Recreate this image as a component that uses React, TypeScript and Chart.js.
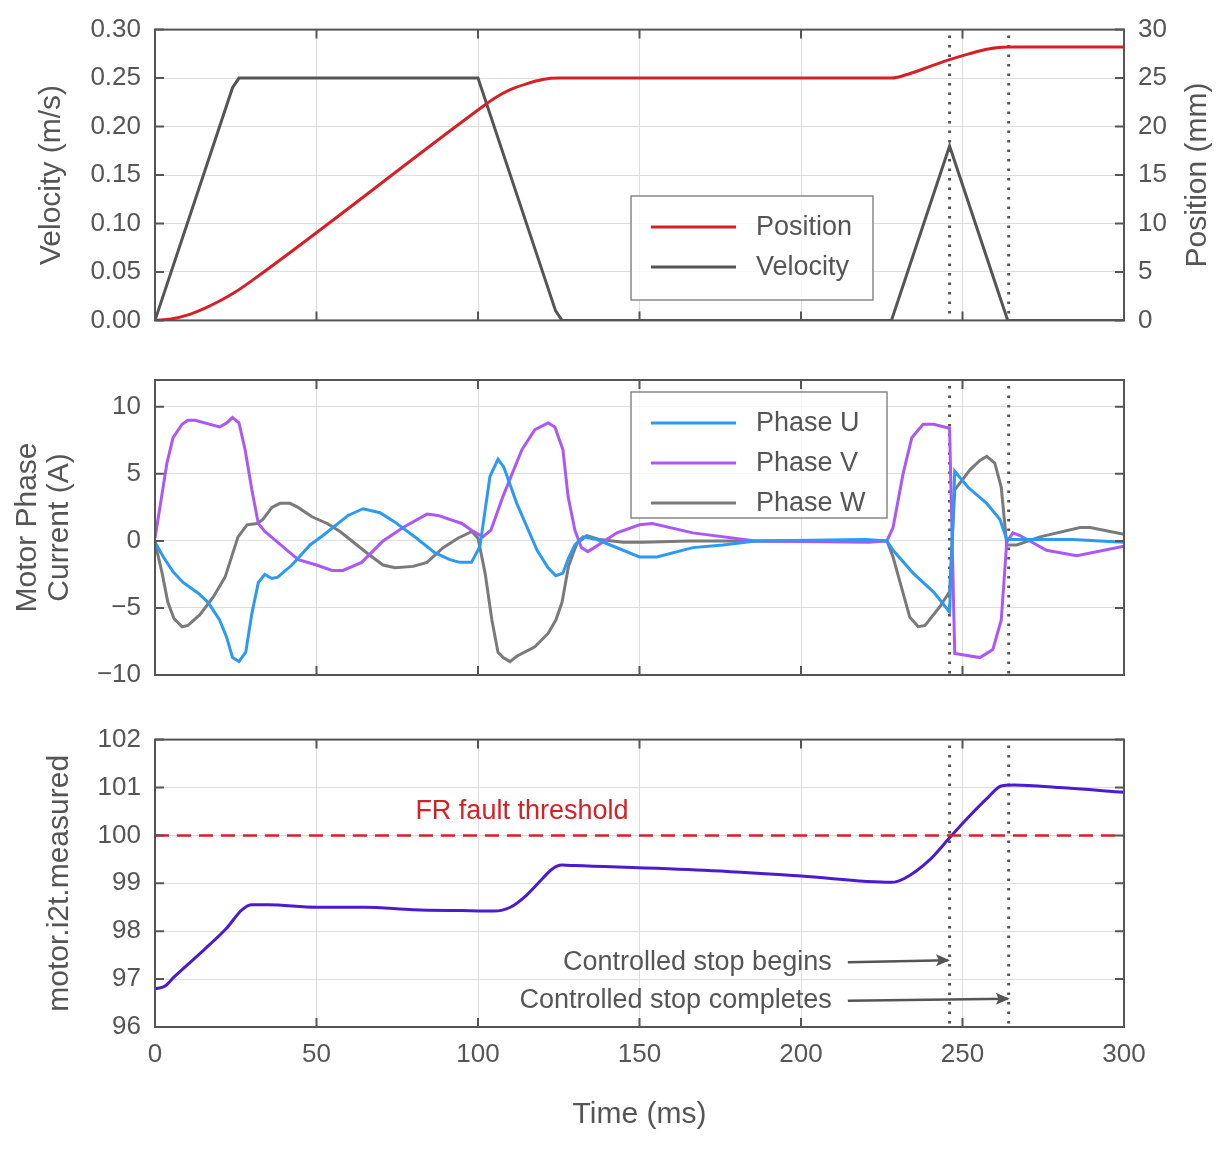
import React, { useEffect, useRef } from "react";
import { Chart, registerables } from "chart.js";
Chart.register(...registerables);

const velT = [0, 24, 26, 100, 124, 126, 228, 246, 264, 300];
const velV = [0, 0.24, 0.25, 0.25, 0.01, 0, 0, 0.18, 0, 0];
const posT = [0, 5, 10, 15, 20, 25, 30, 100, 105, 110, 115, 120, 125, 228, 234, 240, 246, 252, 258, 264, 300];
const posV = [0, 0.15, 0.55, 1.2, 2.0, 2.95, 4.1, 21.7, 22.9, 23.8, 24.4, 24.85, 25, 25, 25.5, 26.2, 26.9, 27.5, 28.0, 28.2, 28.2];

const uT = [0, 2.6, 5.6, 8.7, 13.4, 16.5, 20, 22.2, 24, 26, 28.1, 30, 32, 34, 36.2, 38, 42.4, 48, 52, 59.8, 64.4, 69.7, 74.3, 81, 86.7, 91.3, 94.4, 98, 100.6, 103.7, 106.2, 108, 112, 118.3, 121.7, 124.1, 126.3, 128, 130, 132.5, 136.8, 150, 155.4, 166.5, 175.8, 186, 220, 226.6, 228.5, 234.7, 241, 246, 247.6, 251.7, 257.5, 261.6, 263.7, 274, 284, 300];
const uV = [-0.1, -1.2, -2.3, -3.1, -3.9, -4.6, -5.9, -7.2, -8.7, -9.0, -8.3, -5.4, -3.1, -2.5, -2.8, -2.7, -1.8, -0.3, 0.4, 1.9, 2.4, 2.1, 1.4, 0.2, -0.9, -1.4, -1.6, -1.6, -0.4, 4.8, 6.1, 5.5, 2.8, -0.7, -2.0, -2.6, -2.4, -1.3, -0.3, 0.3, 0.1, -1.2, -1.2, -0.5, -0.3, 0, 0.1, 0, -0.7, -2.4, -3.8, -5.3, 5.2, 4.0, 2.8, 1.6, 0.1, 0.1, 0.1, -0.1];
const vT = [0, 3.7, 5.6, 8.4, 10.2, 12.4, 20, 22.2, 24, 26, 27.9, 30, 32, 34, 36, 42.4, 44.4, 50, 54.8, 58.2, 64, 70.6, 76.8, 84.2, 87.6, 95, 98, 101.5, 104, 107.7, 113.6, 117.6, 121.7, 123.8, 126.3, 127.9, 130, 132, 134, 136, 143, 150, 154, 166.5, 186, 221, 226.6, 228.5, 231.6, 234.3, 237.8, 241, 246, 247.6, 255.4, 259.4, 262, 263.7, 265.6, 267.8, 276, 285.4, 300];
const vV = [0.2, 5.8, 7.7, 8.7, 9.0, 9.0, 8.5, 8.8, 9.2, 8.8, 6.8, 3.8, 1.3, 0.7, 0.3, -1.0, -1.4, -1.8, -2.2, -2.2, -1.6, 0, 1.0, 2.0, 1.9, 1.3, 0.8, 0.3, 0.8, 3.3, 6.8, 8.3, 8.8, 8.5, 6.8, 3.3, 0.8, -0.5, -0.8, -0.5, 0.6, 1.2, 1.3, 0.6, 0, -0.1, 0, 1.0, 5.0, 7.7, 8.7, 8.7, 8.4, -8.4, -8.7, -8.1, -5.9, -0.1, 0.6, 0.4, -0.7, -1.1, -0.4];
const wT = [0, 2.2, 4, 5.9, 8.4, 10.2, 13.9, 18, 21.7, 25.7, 28.5, 31.6, 33.4, 36.2, 38.7, 41.8, 44.3, 48.6, 53.3, 57.3, 65.6, 70.6, 74.3, 79.9, 84.2, 89.2, 93.8, 98.1, 100, 102.2, 104.3, 106.2, 107.8, 109.9, 112, 117.6, 121.7, 124.1, 126, 128, 130.6, 133.7, 137.8, 144.9, 151, 165.6, 226.6, 228.5, 231.6, 233.7, 236.3, 238.4, 243, 246, 247.6, 252.3, 255.4, 257.5, 260, 262, 263.7, 266.8, 274, 286.4, 289.5, 300];
const wV = [-0.1, -2.4, -4.6, -5.8, -6.4, -6.3, -5.5, -4.2, -2.7, 0.3, 1.2, 1.3, 1.6, 2.5, 2.8, 2.8, 2.5, 1.8, 1.3, 0.7, -0.9, -1.8, -2.0, -1.9, -1.6, -0.5, 0.2, 0.7, 0.2, -2.4, -5.9, -8.3, -8.7, -9.0, -8.6, -7.9, -6.9, -5.9, -4.6, -1.9, -0.2, 0.4, 0.1, -0.1, -0.1, 0, 0, -1.2, -3.9, -5.7, -6.4, -6.3, -4.9, -3.8, 3.8, 5.3, 6.0, 6.3, 5.8, 4.0, -0.3, -0.3, 0.3, 1.0, 1.0, 0.5];

const i2tT = [0, 3, 6, 15, 22, 27, 30, 35, 50, 65, 80, 95, 105, 110, 115, 120, 123, 126, 130, 170, 200, 228, 232, 240, 246, 250, 258, 262, 266, 280, 300];
const i2tV = [96.8, 96.85, 97.05, 97.6, 98.05, 98.45, 98.55, 98.55, 98.5, 98.5, 98.45, 98.43, 98.42, 98.5, 98.75, 99.1, 99.3, 99.38, 99.37, 99.27, 99.15, 99.02, 99.1, 99.5, 99.95, 100.25, 100.8, 101.03, 101.05, 101.0, 100.9];
const thresholdValue = 100;
const stopTimes = [246, 264.3];

const FONT = "'Liberation Sans', Arial, sans-serif";
const TXT = "#555";
const TICK = 26;
const TITLE = 30;
const LBL = 27;
const pts = (t: number[], v: number[]) => t.map((x, i) => ({ x, y: v[i] }));
const minus = (s: string) => s.replace("-", "\u2212");

const framePlugin = {
  id: "frame",
  beforeDatasetsDraw(chart: any) {
    const { ctx, chartArea: a, scales } = chart;
    ctx.save();
    ctx.strokeStyle = "#555";
    ctx.lineWidth = 3;
    ctx.setLineDash([2.5, 7]);
    for (const t of stopTimes) {
      const x = scales.x.getPixelForValue(t);
      ctx.beginPath(); ctx.moveTo(x, a.top + 6); ctx.lineTo(x, a.bottom); ctx.stroke();
    }
    ctx.restore();
  },
  afterDraw(chart: any) {
    const { ctx, chartArea: a, scales } = chart;
    ctx.save();
    ctx.strokeStyle = "#555";
    ctx.lineWidth = 2;
    ctx.beginPath();
    for (const tk of scales.x.ticks) {
      const x = scales.x.getPixelForValue(tk.value);
      ctx.moveTo(x, a.bottom); ctx.lineTo(x, a.bottom - 9);
      ctx.moveTo(x, a.top); ctx.lineTo(x, a.top + 9);
    }
    for (const tk of scales.y.ticks) {
      const y = scales.y.getPixelForValue(tk.value);
      ctx.moveTo(a.left, y); ctx.lineTo(a.left + 9, y);
      if (!scales.y2) { ctx.moveTo(a.right, y); ctx.lineTo(a.right - 9, y); }
    }
    if (scales.y2) {
      for (const tk of scales.y2.ticks) {
        const y = scales.y2.getPixelForValue(tk.value);
        ctx.moveTo(a.right, y); ctx.lineTo(a.right - 9, y);
      }
    }
    ctx.stroke();
    ctx.strokeRect(a.left, a.top, a.right - a.left, a.bottom - a.top);
    const rt = chart.options.plugins.rightTitle;
    if (rt) {
      ctx.save();
      ctx.translate(rt.x, (a.top + a.bottom) / 2);
      ctx.rotate(-Math.PI / 2);
      ctx.font = `${TITLE}px ${FONT}`;
      ctx.fillStyle = TXT; ctx.textAlign = "center"; ctx.textBaseline = "middle";
      ctx.fillText(rt.text, 0, 0);
      ctx.restore();
    }
    const lg = chart.options.plugins.myLegend;
    if (lg) {
      ctx.fillStyle = "rgba(255,255,255,0.8)";
      ctx.fillRect(lg.x, lg.y, lg.w, lg.h);
      ctx.strokeStyle = "#888";
      ctx.lineWidth = 1.5;
      ctx.strokeRect(lg.x, lg.y, lg.w, lg.h);
      ctx.font = `${LBL}px ${FONT}`;
      ctx.textBaseline = "middle";
      lg.items.forEach((it: any, i: number) => {
        const y = lg.y + 31 + i * 40;
        ctx.strokeStyle = it.color; ctx.lineWidth = 3;
        ctx.beginPath(); ctx.moveTo(lg.x + 20, y); ctx.lineTo(lg.x + 105, y); ctx.stroke();
        ctx.fillStyle = TXT; ctx.fillText(it.label, lg.x + 125, y + 1);
      });
    }
    const an = chart.options.plugins.myNotes;
    if (an) {
      const X = scales.x, Y = scales.y;
      ctx.font = `${LBL}px ${FONT}`;
      ctx.textBaseline = "middle";
      ctx.fillStyle = "#d62027";
      ctx.textAlign = "center";
      ctx.fillText("FR fault threshold", X.getPixelForValue(113.6), Y.getPixelForValue(100.49));
      ctx.fillStyle = TXT;
      ctx.textAlign = "right";
      ctx.strokeStyle = "#555"; ctx.lineWidth = 2.5;
      for (const n of an) {
        const y = Y.getPixelForValue(n.y);
        ctx.fillText(n.text, X.getPixelForValue(209.5), y);
        const x0 = X.getPixelForValue(214.5), x1 = X.getPixelForValue(n.to);
        const y1 = y - 2;
        ctx.beginPath(); ctx.moveTo(x0, y); ctx.lineTo(x1, y1); ctx.stroke();
        ctx.beginPath();
        ctx.moveTo(x1 + 2, y1); ctx.lineTo(x1 - 12, y1 - 6); ctx.lineTo(x1 - 9, y1); ctx.lineTo(x1 - 12, y1 + 6); ctx.closePath();
        ctx.fillStyle = "#555"; ctx.fill();
        ctx.fillStyle = TXT;
      }
    }
    ctx.restore();
  },
};

const gridCol = "#dddddd";
const xScale = (showLabels: boolean, h: number) => ({
  type: "linear", min: 0, max: 300,
  ticks: { stepSize: 50, display: showLabels, color: TXT, font: { family: FONT, size: TICK }, padding: 12, maxRotation: 0 },
  grid: { color: gridCol, lineWidth: 1, drawTicks: false },
  border: { display: false },
  title: showLabels ? { display: true, text: "Time (ms)", color: TXT, font: { family: FONT, size: TITLE }, padding: { top: 0, bottom: 0 } } : { display: false },
  afterFit: (s: any) => { s.height = h; },
});
const yScale = (o: any) => ({
  type: "linear",
  position: "left",
  min: o.min, max: o.max,
  ticks: { stepSize: o.step, includeBounds: false, color: TXT, font: { family: FONT, size: TICK }, padding: 14, callback: o.cb },
  grid: { color: gridCol, lineWidth: 1, drawTicks: false },
  border: { display: false },
  title: { display: true, text: o.title, color: TXT, font: { family: FONT, size: TITLE, lineHeight: 1.05 }, padding: { top: 0, bottom: 6 } },
  afterFit: (s: any) => { s.width = o.w; },
});

function Panel({ top, height, config }: any) {
  const ref = useRef<HTMLCanvasElement>(null);
  useEffect(() => {
    const c = new Chart(ref.current!, config);
    return () => c.destroy();
  }, []);
  return (
    <div style={{ position: "absolute", left: 0, top, width: 1225, height }}>
      <canvas ref={ref} width={1225} height={height} style={{ width: 1225, height }} />
    </div>
  );
}

const lineDs = (label: string, data: any, color: string, extra: any = {}) => ({
  label, data, borderColor: color, borderWidth: 3, pointRadius: 0, fill: false, tension: 0, ...extra,
});

const common = { responsive: false, animation: false, plugins: { legend: { display: false }, tooltip: { enabled: false } } };

const cfg1: any = {
  type: "line",
  data: { datasets: [
    lineDs("Position", pts(posT, posV), "#d62027", { yAxisID: "y2", cubicInterpolationMode: "monotone" }),
    lineDs("Velocity", pts(velT, velV), "#555555", { yAxisID: "y" }),
  ] },
  options: {
    ...common,
    plugins: { ...common.plugins, rightTitle: { x: 1198, text: "Position (mm)" }, myLegend: { x: 631, y: 196, w: 242, h: 104, items: [{ label: "Position", color: "#d62027" }, { label: "Velocity", color: "#555555" }] } },
    layout: { padding: { top: 27, bottom: 28, left: 36, right: 0 } },
    scales: {
      x: xScale(false, 0),
      y: yScale({ min: 0, max: 0.3, step: 0.05, title: "Velocity (m/s)", w: 119, cb: (v: number) => v.toFixed(2) }),
      y2: {
        type: "linear", position: "right", min: 0, max: 30,
        ticks: { stepSize: 5, color: TXT, font: { family: FONT, size: TICK }, padding: 14 },
        grid: { display: false, drawTicks: false }, border: { display: false },
        title: { display: false },
        afterFit: (s: any) => { s.width = 101; },
      },
    },
  },
  plugins: [framePlugin],
};

const cfg2: any = {
  type: "line",
  data: { datasets: [
    lineDs("Phase U", pts(uT, uV), "#2b9af3"),
    lineDs("Phase V", pts(vT, vV), "#ac58f6"),
    lineDs("Phase W", pts(wT, wV), "#7a7a7a"),
  ] },
  options: {
    ...common,
    plugins: { ...common.plugins, myLegend: { x: 631, y: 42, w: 256, h: 126, items: [{ label: "Phase U", color: "#2b9af3" }, { label: "Phase V", color: "#ac58f6" }, { label: "Phase W", color: "#7a7a7a" }] } },
    layout: { padding: { top: 30, bottom: 35, left: 12, right: 101 } },
    scales: {
      x: xScale(false, 0),
      y: yScale({ min: -10, max: 12, step: 5, title: ["Motor Phase", "Current (A)"], w: 143, cb: (v: number) => minus(String(v)) }),
    },
  },
  plugins: [framePlugin],
};

const cfg3: any = {
  type: "line",
  data: { datasets: [
    lineDs("threshold", [{ x: 0, y: thresholdValue }, { x: 300, y: thresholdValue }], "#d62027", { borderDash: [14, 8], borderWidth: 2.5 }),
    lineDs("i2t", pts(i2tT, i2tV), "#4a1ccf", { cubicInterpolationMode: "monotone" }),
  ] },
  options: {
    ...common,
    plugins: { ...common.plugins, myNotes: [
      { text: "Controlled stop begins", y: 97.35, to: 245.5 },
      { text: "Controlled stop completes", y: 96.55, to: 264 },
    ] },
    layout: { padding: { top: 24, bottom: 32, left: 44, right: 101 } },
    scales: {
      x: xScale(true, 106),
      y: yScale({ min: 96, max: 102, step: 1, title: "motor.i2t.measured", w: 111, cb: (v: number) => String(v) }),
    },
  },
  plugins: [framePlugin],
};

export default function App() {
  useEffect(() => { document.body.style.margin = "0"; }, []);
  return (
    <div style={{ position: "relative", width: 1225, height: 1165, background: "#fff" }}>
      <Panel top={0} height={350} config={cfg1} />
      <Panel top={350} height={360} config={cfg2} />
      <Panel top={710} height={455} config={cfg3} />
    </div>
  );
}
